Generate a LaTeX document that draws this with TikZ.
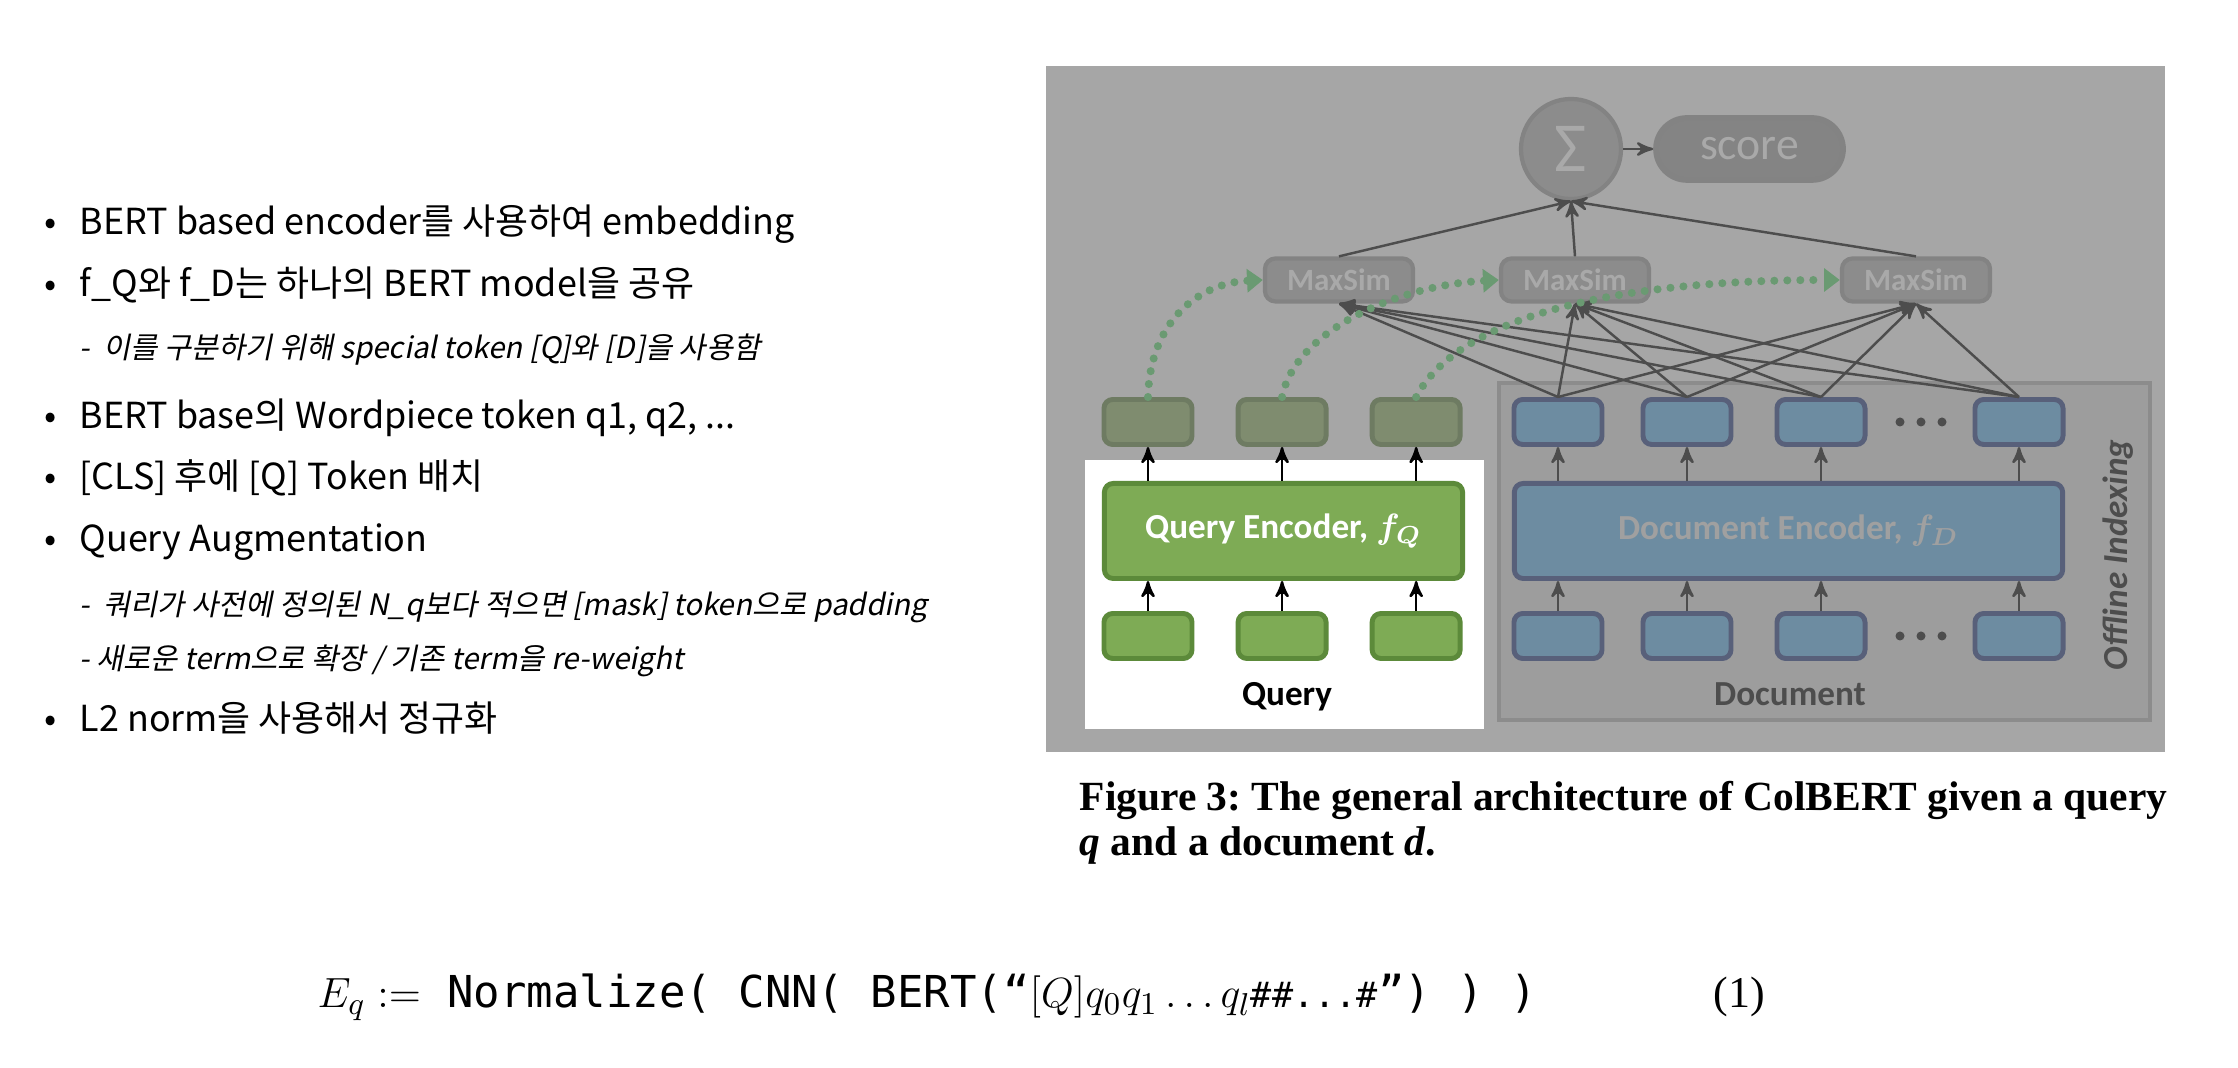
\documentclass[tikz,border=0pt]{standalone}
\usepackage{amsmath}
\usepackage{fontspec}
\setmainfont{Carlito}
\newfontfamily\kr{Noto Sans CJK KR}
\newfontfamily\krit[FakeSlant=0.2]{Noto Sans CJK KR}
\newfontfamily\capf{Liberation Serif}
\newfontfamily\monof{DejaVu Sans Mono}
\usetikzlibrary{arrows,arrows.meta,positioning}

\definecolor{panelgray}{HTML}{A6A6A6}
\definecolor{docpanel}{HTML}{9D9D9D}
\definecolor{docedge}{HTML}{8C8C8C}
\definecolor{docfill}{HTML}{6D8CA1}
\definecolor{docline}{HTML}{58607A}
\definecolor{qdimfill}{HTML}{7F8C6F}
\definecolor{qdimline}{HTML}{6E7B62}
\definecolor{qfill}{HTML}{7EAB55}
\definecolor{qline}{HTML}{5C8A3A}
\definecolor{simfill}{HTML}{8C8C8C}
\definecolor{simline}{HTML}{838383}
\definecolor{simtext}{HTML}{A9A9A9}
\definecolor{wirecol}{HTML}{4D4D4D}
\definecolor{dotgreen}{HTML}{6A9A72}

\newcommand{\itembul}{\makebox[0.35cm][l]{•}}
\frenchspacing

\begin{document}
\begin{tikzpicture}[x=0.01cm,y=-0.01cm,>=stealth',
    cell/.style={rectangle,rounded corners=2.5pt,line width=1.4pt,minimum width=0.88cm,minimum height=0.45cm,inner sep=0pt},
    qcell/.style={cell,draw=qline,fill=qfill},
    qdim/.style={cell,draw=qdimline,fill=qdimfill},
    dcell/.style={cell,draw=docline,fill=docfill},
    enc/.style={cell,minimum height=0.95cm,font=\bfseries\fontsize{10}{12}\selectfont},
    maxsim/.style={rectangle,rounded corners=3pt,line width=1.2pt,draw=simline,fill=simfill,text=simtext,minimum width=1.48cm,minimum height=0.43cm,inner sep=0pt,font=\bfseries\fontsize{8.8}{10}\selectfont},
    wire/.style={->,draw=wirecol,line width=0.7pt},
    hop/.style={draw=dotgreen,line width=2.3pt,line cap=round,dash pattern=on 0pt off 3.7pt,-{Triangle[length=4.5pt,width=6.5pt]}},
    item/.style={anchor=west,inner sep=0pt,font=\kr\fontsize{10.2}{12}\selectfont},
    subitem/.style={anchor=west,inner sep=0pt,font=\krit\fontsize{8.4}{10}\selectfont},
    lbl/.style={inner sep=0pt,font=\bfseries\fontsize{10}{12}\selectfont}]

    \useasboundingbox (0,0) rectangle (2238,1068);

    \node[item] (b1) at (44,224) {\itembul BERT based encoder를 사용하여 embedding};
    \node[item] (b2) at (44,285) {\itembul f\_Q와 f\_D는 하나의 BERT model을 공유};
    \node[subitem] (s1) at (79,350) {-\ \ 이를 구분하기 위해 special token [Q]와 [D]을 사용함};
    \node[item] (b3) at (44,418) {\itembul BERT base의 Wordpiece token q1, q2, ...};
    \node[item] (b4) at (44,478) {\itembul [CLS] 후에 [Q] Token 배치};
    \node[item] (b5) at (44,542) {\itembul Query Augmentation};
    \node[subitem] (s2) at (79,607) {-\ \ 쿼리가 사전에 정의된 N\_q보다 적으면 [mask] token으로 padding};
    \node[subitem] (s3) at (79,661) {- 새로운 term으로 확장 / 기존 term을 re-weight};
    \node[item] (b6) at (44,718) {\itembul L2 norm을 사용해서 정규화};

    \fill[panelgray] (1046,66) rectangle (2165,752);
    \fill[white] (1085,460) rectangle (1484,729);
    \draw[docedge,line width=1pt,fill=docpanel] (1499,383) rectangle (2150,720);

    \node[circle,draw=simline,line width=1.2pt,fill=simfill,text=simtext,minimum size=1.0cm,inner sep=0pt,font=\fontsize{20}{20}\selectfont] (sum) at (1571,149) {Σ};
    \node[rectangle,rounded corners=0.31cm,draw=simline,line width=1.6pt,fill=simfill!107,text=simtext,minimum width=1.87cm,minimum height=0.62cm,font=\fontsize{13}{13}\selectfont,right=0.3cm of sum] (score) {score};

    \node[maxsim] (m1) at (1339,280) {MaxSim};
    \node[maxsim] (m2) at (1575,280) {MaxSim};
    \node[maxsim] (m3) at (1916,280) {MaxSim};

    \node[qdim] (qo1) at (1148,422) {};
    \node[qdim,node distance=1.34cm] (qo2) [right of=qo1] {};
    \node[qdim,node distance=1.34cm] (qo3) [right of=qo2] {};
    \node[enc,draw=qline,fill=qfill,text=white,minimum width=3.58cm] (qe) at (1283.5,531) {Query Encoder, $\boldsymbol{f_Q}$};
    \node[qcell] (qi1) at (1148,636) {};
    \node[qcell,node distance=1.34cm] (qi2) [right of=qi1] {};
    \node[qcell,node distance=1.34cm] (qi3) [right of=qi2] {};
    \node[lbl] (qlab) at (1287,697) {Query};

    \node[dcell] (d1) at (1558,422) {};
    \node[dcell] (d2) at (1687,422) {};
    \node[dcell] (d3) at (1821,422) {};
    \node[dcell] (d4) at (2019,422) {};
    \node[enc,draw=docline,fill=docfill,text=simtext!110,minimum width=5.48cm] (de) at (1788.5,531) {Document Encoder, $\boldsymbol{f_D}$};
    \node[dcell] (di1) at (1558,636) {};
    \node[dcell] (di2) at (1687,636) {};
    \node[dcell] (di3) at (1821,636) {};
    \node[dcell] (di4) at (2019,636) {};
    \node[lbl,text=wirecol] (dlab) at (1790,694) {Document};
    \node[lbl,text=wirecol,rotate=90,font=\bfseries\itshape\fontsize{10}{12}\selectfont] (offl) at (2118,555) {Offline Indexing};
    \foreach \y in {422,636}
      \foreach \x in {1900,1921,1942}
        \fill[wirecol] (\x,\y) circle (0.045cm);

    \foreach \i in {1,2,3} {
      \draw[->,line width=0.7pt] (qi\i) -- (qe.south -| qi\i);
      \draw[->,line width=0.7pt] (qe.north -| qo\i) -- (qo\i);
    }
    \foreach \i in {1,2,3,4} {
      \draw[wire] (di\i) -- (de.south -| di\i);
      \draw[wire] (de.north -| d\i) -- (d\i);
      \foreach \m in {m1,m2,m3}
        \draw[wire] (d\i.north) -- (\m.south);
    }
    \path (m1.north) edge[wire] (sum.south)
          (m2.north) edge[wire] (sum.south)
          (m3.north) edge[wire] (sum.south)
          (sum) edge[wire] (score);

    \draw[hop] (qo1.north) .. controls (1150,320) and (1200,283) .. (m1.west);
    \draw[hop] (qo2.north) .. controls (1295,330) and (1400,285) .. (m2.west);
    \draw[hop] (qo3.north) .. controls (1458,318) and (1610,280) .. (m3.west);

    \node[anchor=base west,inner sep=0pt,font=\capf\bfseries\fontsize{11.8}{14}\selectfont] (cap1) at (1079,811) {Figure 3: The general architecture of ColBERT given a query};
    \node[anchor=base west,inner sep=0pt,font=\capf\bfseries\fontsize{11.8}{14}\selectfont] (cap2) at (1079,856) {\textit{q} and a document \textit{d}.};

    \node[anchor=base west,inner sep=0pt,font=\monof\fontsize{12.5}{15}\selectfont] (eq) at (317,1008) {$E_q \mathrel{:=}$ Normalize( CNN( BERT(“$[Q]q_0q_1\ldots q_l${\fontsize{10}{12}\selectfont\#\#...\#}”) ) )};
    \node[anchor=base west,inner sep=0pt,font=\capf\fontsize{12.5}{15}\selectfont] (eqno) at (1713,1008) {(1)};
\end{tikzpicture}
\end{document}
